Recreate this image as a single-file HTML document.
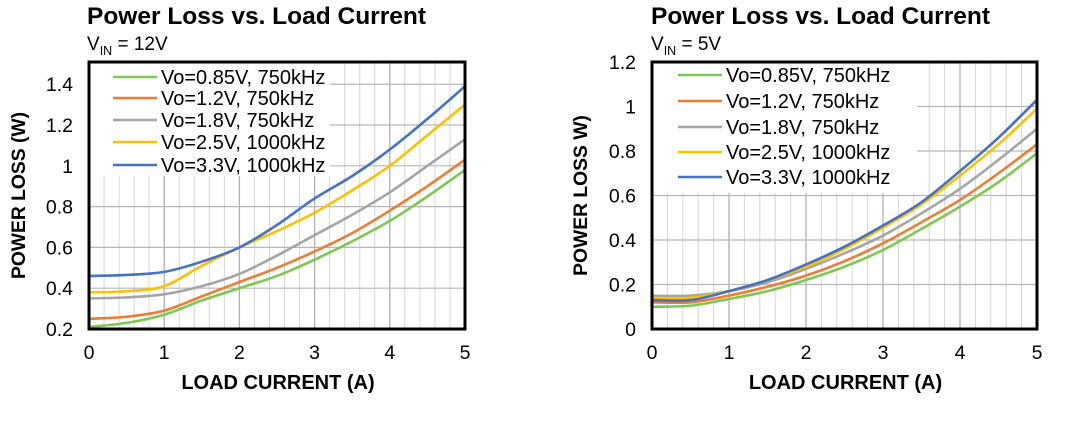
<!DOCTYPE html>
<html><head><meta charset="utf-8">
<style>
body{margin:0;background:#fff;width:1080px;height:421px;overflow:hidden}
svg{display:block;font-family:"Liberation Sans",Arial,sans-serif}
</style></head>
<body>
<svg id="c" width="1080" height="421" viewBox="0 0 1080 421"></svg>
<script>
const currents=[0,0.5,1,1.5,2,2.5,3,3.5,4,4.5,5];
const seriesNames=["Vo=0.85V, 750kHz","Vo=1.2V, 750kHz","Vo=1.8V, 750kHz","Vo=2.5V, 1000kHz","Vo=3.3V, 1000kHz"];
const seriesColors=["#7ec850","#ed7d31","#a5a5a5","#ffc000","#4472c4"];
const left085=[0.21,0.23,0.27,0.34,0.40,0.46,0.54,0.63,0.73,0.85,0.98];
const left12=[0.25,0.26,0.29,0.36,0.43,0.50,0.58,0.67,0.78,0.90,1.03];
const left18=[0.35,0.355,0.37,0.41,0.47,0.56,0.66,0.76,0.87,1.00,1.13];
const left25=[0.38,0.385,0.41,0.51,0.60,0.68,0.77,0.88,1.00,1.15,1.30];
const left33=[0.46,0.465,0.48,0.53,0.60,0.71,0.84,0.95,1.08,1.23,1.39];
const right085=[0.10,0.105,0.135,0.17,0.22,0.28,0.355,0.45,0.55,0.66,0.79];
const right12=[0.12,0.12,0.15,0.19,0.24,0.305,0.385,0.48,0.58,0.70,0.83];
const right18=[0.15,0.15,0.17,0.21,0.27,0.34,0.42,0.52,0.63,0.76,0.90];
const right25=[0.14,0.14,0.17,0.22,0.28,0.36,0.455,0.56,0.69,0.83,0.99];
const right33=[0.13,0.13,0.17,0.22,0.29,0.37,0.465,0.57,0.71,0.86,1.03];
const leftYTicks=["0.2","0.4","0.6","0.8","1","1.2","1.4"];
const rightYTicks=["0","0.2","0.4","0.6","0.8","1","1.2"];
const xTickLabels=["0","1","2","3","4","5"];

const svg=document.getElementById('c');
const NS="http://www.w3.org/2000/svg";
function mk(tag,attrs,parent){const e=document.createElementNS(NS,tag);for(const k in attrs)e.setAttribute(k,attrs[k]);(parent||svg).appendChild(e);return e;}
function txt(s,attrs,parent){const t=mk('text',attrs,parent);t.textContent=s;return t;}

function chart(cfg){
  const g=mk('g',{});
  
  
  const x=v=>cfg.x0+(v-0)/(5-0)*(cfg.x1-cfg.x0);
  const y=v=>cfg.y1-(v-cfg.ymin)/(cfg.ymax-cfg.ymin)*(cfg.y1-cfg.y0);
  const grid=mk('g',{},g);
  
  
  for(let i=1;i<25;i++){
    const v=i*0.2, xx=x(v);
    const major=(i%5===0);
    const top=(xx<cfg.legX)?cfg.legY:cfg.y0;
    mk('line',{x1:xx,x2:xx,y1:top,y2:cfg.y1,stroke:major?'#b0b0b0':'#d6d6d6','stroke-width':major?1.3:1},grid);
  }
  cfg.yTicks.forEach(s=>{
    const v=parseFloat(s), yy=y(v);
    if(yy<=cfg.y0+1||yy>=cfg.y1-1)return;
    const left=(yy<cfg.legY)?cfg.legX:cfg.x0;
    mk('line',{x1:left,x2:cfg.x1,y1:yy,y2:yy,stroke:'#b8b8b8','stroke-width':1.2},grid);
  });
  cfg.series.forEach((arr,si)=>{
    const pts=arr.map((v,i)=>[x(currents[i]),y(v)]);
    let d=`M${pts[0][0]},${pts[0][1]}`;
    for(let i=0;i<pts.length-1;i++){
      const p0=pts[Math.max(0,i-1)],p1=pts[i],p2=pts[i+1],p3=pts[Math.min(pts.length-1,i+2)];
      const c1=[p1[0]+(p2[0]-p0[0])/6,p1[1]+(p2[1]-p0[1])/6];
      const c2=[p2[0]-(p3[0]-p1[0])/6,p2[1]-(p3[1]-p1[1])/6];
      d+=` C${c1[0]},${c1[1]} ${c2[0]},${c2[1]} ${p2[0]},${p2[1]}`;
    }
    const p=mk('path',{d:d,fill:'none',stroke:seriesColors[si],'stroke-width':2.6,'stroke-linejoin':'round'},g);
    
    
  });
  mk('rect',{x:cfg.x0,y:cfg.y0,width:cfg.x1-cfg.x0,height:cfg.y1-cfg.y0,fill:'none',stroke:'#000','stroke-width':3},g);
  const lg=mk('g',{},g);
  
  
  seriesNames.forEach((n,i)=>{
    const yy=cfg.legRows[i];
    mk('line',{x1:cfg.legLine,x2:cfg.legLine+44,y1:yy,y2:yy,stroke:seriesColors[i],'stroke-width':2.6},lg);
    const t=txt(n,{x:cfg.legLine+48,y:yy+7,'font-size':20,fill:'#000'},lg);
    
    
  });
  cfg.yTicks.forEach(s=>{
    const t=txt(s,{x:cfg.x0-16,y:y(parseFloat(s))+7,'font-size':19.5,'text-anchor':'end'},g);
    
    
  });
  xTickLabels.forEach(s=>{
    const t=txt(s,{x:x(parseFloat(s)),y:cfg.y1+30,'font-size':19.5,'text-anchor':'middle'},g);
    
    
  });
  const xt=txt('LOAD CURRENT (A)',{x:(cfg.x0+cfg.x1)/2+1,y:cfg.y1+60,'font-size':20,'font-weight':'bold','text-anchor':'middle'},g);
  
  
  const yt=txt(cfg.yTitle,{x:0,y:0,'font-size':19.3,'font-weight':'bold','text-anchor':'middle',transform:`translate(${cfg.yTitleX},${(cfg.y0+cfg.y1)/2+0}) rotate(-90)`},g);
  
  
  const tt=txt('Power Loss vs. Load Current',{x:cfg.titleX,y:24,'font-size':24.5,'font-weight':'bold'},g);
  
  
  const st=mk('text',{x:cfg.titleX,y:50,'font-size':19},g);
  
  
  st.innerHTML=`V<tspan font-size="12.5" dy="5">IN</tspan><tspan dy="-5"> = ${cfg.vin}</tspan>`;
}

chart({name:'chart-vin-12v',x0:89,x1:465,y0:62,y1:329,ymin:0.2,ymax:1.509,
  yTicks:leftYTicks,series:[left085,left12,left18,left25,left33],
  legX:330,legY:176,legLine:113,legRows:[77,98,120,142,165],
  yTitle:'POWER LOSS (W)',yTitleX:25,titleX:87,vin:'12V'});
chart({name:'chart-vin-5v',x0:652,x1:1037,y0:62,y1:329,ymin:0,ymax:1.2,
  yTicks:rightYTicks,series:[right085,right12,right18,right25,right33],
  legX:917,legY:193,legLine:678,legRows:[75,101,127,152,177],
  yTitle:'POWER LOSS W)',yTitleX:587,titleX:651,vin:'5V'});
</script>
</body></html>
